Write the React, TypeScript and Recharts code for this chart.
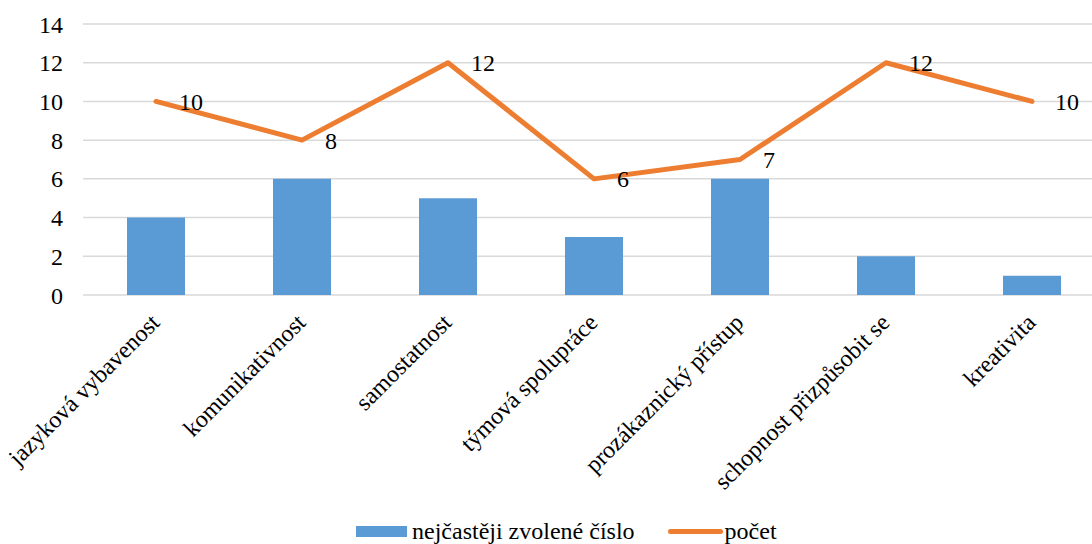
import { ComposedChart, Bar, Line, XAxis, YAxis, CartesianGrid, Legend, LabelList } from "recharts";

const categories = [
  "jazyková vybavenost",
  "komunikativnost",
  "samostatnost",
  "týmová spolupráce",
  "prozákaznický přístup",
  "schopnost přizpůsobit se",
  "kreativita",
];
const chosenNumber = [4, 6, 5, 3, 6, 2, 1];
const counts = [10, 8, 12, 6, 7, 12, 10];
const yTicks = [0, 2, 4, 6, 8, 10, 12, 14];

const BAR_COLOR = "#5B9BD5";
const LINE_COLOR = "#ED7D31";
const FONT = "Liberation Serif, Times New Roman, DejaVu Serif, serif";

const data = categories.map((name, i) => ({
  name,
  chosen: chosenNumber[i],
  count: counts[i],
}));

const CategoryTick = ({ x, y, payload }: any) => (
  <g transform={`translate(${x + 5},${y})`}>
    <text
      textAnchor="end"
      transform="rotate(-45)"
      fill="#000"
      style={{ fontFamily: FONT, fontSize: 24 }}
    >
      {payload.value}
    </text>
  </g>
);

const CountLabel = ({ x, y, value }: any) => (
  <text x={x + 23} y={y} dy="0.35em" fill="#000" style={{ fontFamily: FONT, fontSize: 24 }}>
    {value}
  </text>
);

const renderLegend = () => (
  <div
    style={{
      display: "flex",
      alignItems: "center",
      paddingLeft: 356,
      paddingTop: 4,
      fontFamily: FONT,
      fontSize: 24,
      color: "#000",
      whiteSpace: "nowrap",
    }}
  >
    <span style={{ width: 51, height: 11, background: BAR_COLOR, marginRight: 5 }} />
    <span>nejčastěji zvolené číslo</span>
    <span
      style={{
        width: 55,
        height: 5,
        background: LINE_COLOR,
        borderRadius: 3,
        marginLeft: 33,
        marginRight: 2,
      }}
    />
    <span>počet</span>
  </div>
);

export default function App() {
  return (
    <div
      style={{
        position: "fixed",
        left: 0,
        top: 0,
        width: 1092,
        height: 544,
        overflow: "hidden",
        background: "#fff",
        fontFamily: FONT,
      }}
    >
      <ComposedChart
        width={1110}
        height={544}
        data={data}
        margin={{ top: 24, right: 5, bottom: 0, left: 0 }}
        style={{ fontFamily: FONT }}
      >
        <CartesianGrid vertical={false} stroke="#D9D9D9" strokeWidth={1.5} />
        <XAxis
          dataKey="name"
          axisLine={false}
          tickLine={false}
          tickSize={0}
          tickMargin={29}
          height={219}
          interval={0}
          tick={<CategoryTick />}
        />
        <YAxis
          domain={[0, 14]}
          ticks={yTicks}
          width={83}
          axisLine={false}
          tickLine={false}
          tickSize={0}
          tickMargin={20}
          tick={{ fill: "#000", fontSize: 24, style: { fontFamily: FONT } }}
        />
        <Legend
          verticalAlign="bottom"
          content={renderLegend}
          wrapperStyle={{ height: 30 }}
        />
        <Bar dataKey="chosen" fill={BAR_COLOR} barSize={58} isAnimationActive={false} />
        <Line
          dataKey="count"
          stroke={LINE_COLOR}
          strokeWidth={5}
          strokeLinecap="round"
          strokeLinejoin="round"
          dot={false}
          activeDot={false}
          isAnimationActive={false}
        >
          <LabelList dataKey="count" content={<CountLabel />} />
        </Line>
      </ComposedChart>
    </div>
  );
}
